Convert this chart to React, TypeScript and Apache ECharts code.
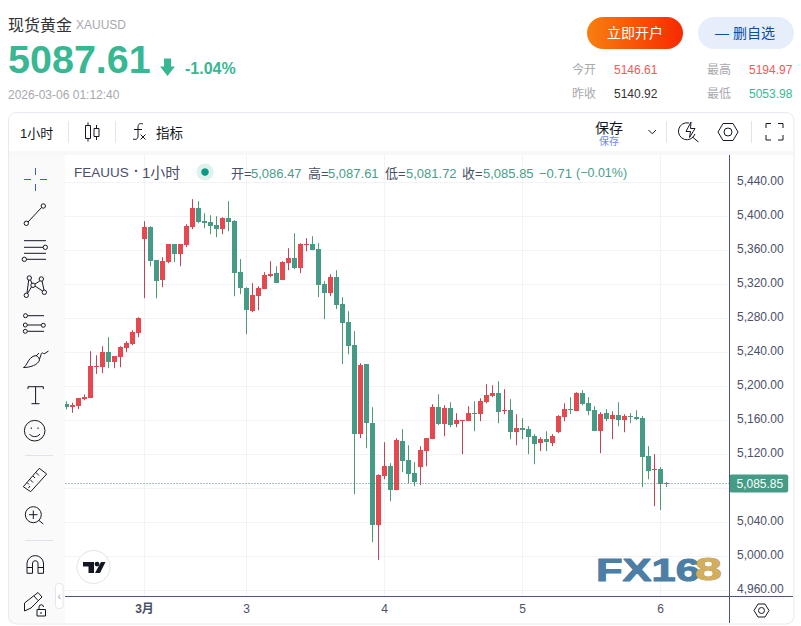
import React, { useEffect, useRef } from "react";
import * as echarts from "echarts";

const xLabels: Record<number, string> = { 13: "3月", 30: "3", 53: "4", 76: "5", 99: "6" };
const bandCount = 111;
const yMin = 4920;
const yMax = 5480;
const yStep = 40;
const lastPrice = 5085.85;

const opens = [5179.2,5175.6,5176.8,5185.1,5186.2,5223.1,5222.7,5240.4,5228.6,5234.5,5245.1,5249.8,5262.7,5373.3,5387.4,5348.6,5325.1,5346.2,5367.4,5355.6,5366.2,5387.4,5409.8,5394.5,5393.3,5389.8,5385.1,5398,5394.5,5334.5,5315.6,5288.6,5306.2,5314.5,5329.8,5333.3,5325.1,5345,5350.9,5339.2,5366.2,5367.4,5361.5,5320.4,5309.8,5328.6,5296.8,5275.6,5248.6,5143.9,5226.2,5156.8,5036.8,5094.5,5106.2,5078,5135.6,5113.3,5098,5105.1,5123.9,5138,5175.6,5155.6,5174.5,5155.6,5159.2,5159.2,5168.6,5167.4,5181.5,5188.6,5192.1,5170.9,5172.1,5146.2,5150.9,5149.8,5141.5,5133.3,5138,5133.3,5146.2,5163.9,5173.3,5170.9,5192.1,5180.3,5172.1,5147.4,5168.6,5161.5,5166.2,5160.4,5165.1,5163.9,5162.7,5118,5101.5,5102.7,5086.47];
const closes = [5175.6,5178,5186.2,5187.4,5223.9,5223.9,5240.4,5228.6,5235.6,5246.2,5251,5263.9,5280.4,5387.4,5347.4,5323.9,5347.4,5367.4,5355.6,5367.4,5388.6,5409.8,5393.3,5392.1,5388.6,5385.1,5398,5393.3,5333.3,5315.6,5289.8,5307.4,5315.6,5331,5332.1,5321.5,5346.2,5350.9,5339.2,5367.4,5367.4,5360.4,5319.2,5309.8,5328.6,5295.6,5274.5,5247.4,5143.9,5225.1,5156.8,5036.8,5095.6,5106.2,5078,5136.8,5112.1,5096.8,5087.4,5125.1,5139.2,5175.6,5155.6,5174.5,5154.5,5160.4,5160.4,5168.6,5167.4,5182.7,5189.8,5192.1,5169.8,5172.1,5146.2,5150.9,5148.6,5140.3,5132.1,5138,5134.5,5141.5,5165.1,5173.3,5172.1,5192.1,5179.2,5170.9,5147.4,5167.4,5161.5,5166.2,5160.4,5165.1,5163.9,5161.5,5116.8,5100.4,5102.7,5085,5085.85];
const highs = [5182.7,5181,5186.2,5190.6,5241.5,5236.8,5247.4,5258,5235.6,5247.4,5253.3,5266.2,5281.5,5394.5,5388.6,5348.6,5352.1,5367.4,5367.4,5367.4,5391,5420.4,5418,5403.9,5401.5,5400.4,5399.2,5418,5395.7,5349.8,5316.8,5321.5,5318,5334.5,5347.4,5341.5,5347.4,5362.7,5380.3,5368.6,5374.5,5376.8,5368.6,5323.9,5332.1,5336.8,5305.1,5288.6,5265.1,5227.4,5226.2,5175.6,5096.8,5134.5,5109.8,5139.2,5149.8,5130.9,5110.9,5129.8,5139.2,5179.2,5190.9,5178,5181.5,5168.6,5160.4,5176.8,5182.7,5186.2,5202.7,5201.5,5206.2,5196.8,5185.1,5167.4,5162.7,5153.3,5143.9,5140.3,5147.4,5143.9,5166.2,5180.3,5187.4,5193.3,5195.6,5187.4,5176.8,5169.8,5173.3,5170.9,5181.5,5167.4,5168.6,5172.1,5165.1,5129.8,5120.4,5105.1,5087.61];
const lows = [5173,5169,5173.3,5183.9,5186.2,5214.8,5215.6,5221.5,5221.5,5222.7,5240.4,5248.6,5258,5303.9,5341.5,5303.9,5316.8,5345,5346.2,5341.5,5363.9,5385.1,5392.1,5386.2,5379.2,5375.6,5379.2,5382.7,5306.2,5308.6,5261.5,5287.4,5289.8,5314.5,5328.6,5321.5,5325.1,5336.8,5338,5333.3,5359.2,5360.4,5305.1,5279.2,5306.2,5291,5226.2,5238,5073.3,5139.2,5127.4,5016.8,4995.7,5090.9,5065.1,5078,5099.2,5086.2,5082.7,5083.9,5106.2,5138,5154.5,5141.5,5152.1,5152.1,5120.4,5159.2,5147.4,5159.2,5180.3,5187.4,5156.8,5167.4,5138,5130.9,5138,5120.4,5108.6,5123.9,5123.9,5129.8,5145.1,5159.2,5167.4,5170.9,5178,5166.2,5147.4,5121.5,5159.2,5138,5153.3,5146.2,5156.8,5160.4,5081.5,5090.9,5059.2,5054.5,5081.72];

const candles = opens.map((o, i) => [i, o, closes[i], lows[i], highs[i]]);
const categories = Array.from({ length: bandCount }, (_, i) => xLabels[i] ?? "");

const FONT = '"Liberation Sans", "Noto Sans CJK SC", sans-serif';
const UP = "#e5484f";
const DOWN = "#459b85";
const UP_WICK = "#b9475a";
const DOWN_WICK = "#4f9a6e";
const INK = "#131722";
const AXIS = "#4c5678";
const LABEL = "#4a5068";
const VALUE = "#4a9d88";

const icons: Record<string, string> = {
  candle: "M88 122.5V125.5M85.5 125.5H90.5V138.5H85.5ZM88 138.5V141.5M96.5 125V128.5M94 128.5H99V136.5H94ZM96.5 136.5V140",
  fx: "M143 124C139 122.5 138 125 138 127V136C138 139 136 140 133 139M134 129.5H142M140.5 134.5L145.5 139.5M145.5 134.5L140.5 139.5",
  chevron: "M648.5 130L652.3 133.8L656 130",
  bolt: "M689 123A8.5 8.5 0 1 0 695 134M692.5 137L698.5 142M691 122L686 131.5H690.5L689.5 137.5L695 128.5H690.5Z",
  hexTop: "M718 132L723 123.5H733L738 132L733 140.5H723ZM732 132A4 4 0 1 1 724 132A4 4 0 1 1 732 132Z",
  full: "M766 128V123.5H771M778 123.5H783V128M783 135V140H778M771 140H766V135",
  hexBottom: "M754 610.5L758 604H765L769 610.5L765 617H758ZM764.5 610.5A3 3 0 1 1 758.5 610.5A3 3 0 1 1 764.5 610.5Z",
  line: "M28 222L41.5 207.5M28.5 223.3A2.2 2.2 0 1 1 24.1 223.3A2.2 2.2 0 1 1 28.5 223.3ZM45.5 206A2.2 2.2 0 1 1 41.1 206A2.2 2.2 0 1 1 45.5 206Z",
  fib: "M24 240.7H46M24 247.3H43M24 253.3H46M26.5 259.3H46M47.5 247.3A2.2 2.2 0 1 1 43.1 247.3A2.2 2.2 0 1 1 47.5 247.3ZM26.5 259.3A2.2 2.2 0 1 1 22.1 259.3A2.2 2.2 0 1 1 26.5 259.3Z",
  pattern: "M28.7 280L27 293M30.5 280L32 283.5M39.8 281L35 284M42 281L44 290M35 286L42.5 291M31.5 287L27.5 293.5M31.5 278A2.2 2.2 0 1 1 27.1 278A2.2 2.2 0 1 1 31.5 278ZM43.5 279A2.2 2.2 0 1 1 39.1 279A2.2 2.2 0 1 1 43.5 279ZM35.2 285.3A2.2 2.2 0 1 1 30.8 285.3A2.2 2.2 0 1 1 35.2 285.3ZM28.5 295.3A2.2 2.2 0 1 1 24.1 295.3A2.2 2.2 0 1 1 28.5 295.3ZM46.5 292.3A2.2 2.2 0 1 1 42.1 292.3A2.2 2.2 0 1 1 46.5 292.3Z",
  channel: "M27.5 315.7H44M27.5 331.3H44M27.5 325H41.3M27.5 315.7A2 2 0 1 1 23.5 315.7A2 2 0 1 1 27.5 315.7ZM45.3 325.3A2 2 0 1 1 41.3 325.3A2 2 0 1 1 45.3 325.3ZM27.3 325A2 2 0 1 1 23.3 325A2 2 0 1 1 27.3 325ZM27.3 331.3A2 2 0 1 1 23.3 331.3A2 2 0 1 1 27.3 331.3Z",
  brush: "M23.5 367.5C27 366 28 358 34 356C37 355 39 357 39.5 360C38 365 30 367.5 23.5 367.5ZM36 356L39 353M39.5 359L41 355C41 353 42.5 352 44 354L48.5 351",
  text: "M28 389V386.7H43.3V389M35.6 386.7V403.7M31.5 403.7H39.5",
  smile: "M45 430.7A10.3 10.3 0 1 1 24.4 430.7A10.3 10.3 0 1 1 45 430.7ZM31.3 427.5V429M38 427.5V429M29.5 434C32 437.5 37.5 437.5 40 434",
  ruler: "M39.3 468.3L46.7 474L30.7 491.7L23.3 486.7ZM27 482.5L29 484.5M30 479.5L33 482.5M33 476L35 478M36 472.5L39 475.5M28.5 488L30 486",
  zoom: "M41.3 514.7A8 8 0 1 1 25.3 514.7A8 8 0 1 1 41.3 514.7ZM39 520.5L43.3 524M33.3 510.5V519M29 514.7H37.5",
  magnet: "M27 573.3V563A8.3 8.3 0 0 1 43.5 563V573.3H38V563A2.8 2.8 0 0 0 32.5 563V573.3ZM27 567.5H32.5M38 567.5H43.5",
  lock: "M24.5 603L38 592.5L42 597L31 608L24.5 611ZM34 596L38 600.5M37 609.5H45.5V616H37ZM39 609.5V607A2 2 0 0 1 43.5 607M41 612V614",
  tvT: "M83 562H94V573H88.5V566.5H83ZM97 561.7A2.4 2.4 0 1 1 97 566.5A2.4 2.4 0 1 1 97 561.7ZM101 562H105.5L100 573H95Z",
};
Object.entries(icons).forEach(([name, d]) => {
  echarts.graphic.registerShape("ic_" + name, echarts.graphic.extendPath(d, {}));
});

const Z = 100;
const txt = (x: number, y: number, text: string, fontSize: number, fill: string, extra: any = {}) => ({
  type: "text",
  z: Z + 2,
  x,
  y,
  silent: true,
  style: { text, fontSize, fill, fontFamily: FONT, verticalAlign: "middle", align: "left", ...extra },
});
const rect = (x: number, y: number, width: number, height: number, fill: string, r: any = 0, stroke?: string, z = Z) => ({
  type: "rect",
  z,
  silent: true,
  shape: { x, y, width, height, r },
  style: { fill, stroke, lineWidth: stroke ? 1 : 0 },
});
const seg = (x1: number, y1: number, x2: number, y2: number, stroke: string, z = Z + 1) => ({
  type: "line",
  z,
  silent: true,
  shape: { x1, y1, x2, y2 },
  style: { stroke, lineWidth: 1 },
});
const icon = (name: string, stroke = INK, fill = "none", lineWidth = 1) => ({
  type: "ic_" + name,
  z: Z + 2,
  silent: true,
  style: { stroke, fill, lineWidth },
});

function buildGraphics() {
  const g = echarts.graphic as any;
  const orange = new g.LinearGradient(0, 0, 1, 0, [
    { offset: 0, color: "#f77f10" },
    { offset: 1, color: "#f72a00" },
  ]);
  const BORDER = "#e8eaf1";
  const SEP = "#e0e3eb";
  return [
    // masks and panels around the plot
    rect(0, 0, 801, 112, "#ffffff"),
    rect(0, 112, 65, 514, "#ffffff"),
    rect(0, 596, 801, 30, "#ffffff"),
    rect(729.5, 112, 71.5, 44, "#ffffff"),
    rect(794, 112, 7, 514, "#ffffff"),
    rect(8.5, 112.5, 785.5, 511.5, "none", 8, BORDER, Z + 1),
    rect(9, 113, 784.5, 38, "#ffffff", [8, 8, 0, 0]),
    rect(9, 151, 784.5, 4, "#f8f8f9"),
    rect(9, 155, 56, 468, "#fafafb"),
    seg(729.5, 155, 729.5, 623, AXIS),
    seg(65, 596.5, 793, 596.5, AXIS),

    // header
    txt(8, 25, "现货黄金", 16, "#333333"),
    txt(76, 25, "XAUUSD", 12, "#a8a8ae"),
    txt(8, 59, "5087.61", 39.5, "#38b793", { fontWeight: "bold" }),
    {
      type: "polygon",
      z: Z + 2,
      silent: true,
      shape: { points: [[164, 58.5], [171, 58.5], [171, 66.5], [175, 66.5], [167.5, 76], [160, 66.5], [164, 66.5]] },
      style: { fill: "#38b793" },
    },
    txt(185, 68, "-1.04%", 16, "#38b793", { fontWeight: "bold" }),
    txt(8, 95, "2026-03-06 01:12:40", 12, "#a8a8ae"),

    rect(587, 17, 96, 32, orange, 16),
    txt(635, 33, "立即开户", 14, "#ffffff", { align: "center" }),
    rect(698, 17, 96, 32, "#e6eefc", 16),
    txt(715, 33, "— 删自选", 14, "#0b4ea2"),

    txt(572, 70, "今开", 12, "#a8a8ae"),
    txt(614, 70, "5146.61", 12, "#f25a5a"),
    txt(707, 70, "最高", 12, "#a8a8ae"),
    txt(749, 70, "5194.97", 12, "#f25a5a"),
    txt(572, 94, "昨收", 12, "#a8a8ae"),
    txt(614, 94, "5140.92", 12, "#333333"),
    txt(707, 94, "最低", 12, "#a8a8ae"),
    txt(749, 94, "5053.98", 12, "#38b793"),

    // top toolbar
    txt(20, 133, "1小时", 13, INK),
    seg(68.5, 121, 68.5, 143, SEP),
    icon("candle"),
    seg(115.5, 121, 115.5, 143, SEP),
    icon("fx"),
    txt(156, 133, "指标", 13.5, INK),
    txt(595, 128, "保存", 14, INK),
    txt(599, 141, "保存", 10, "#7186f4"),
    icon("chevron"),
    seg(666.5, 121, 666.5, 143, SEP),
    icon("bolt"),
    icon("hexTop"),
    seg(751.5, 121, 751.5, 143, SEP),
    icon("full"),

    // legend row
    txt(74, 172, "FEAUUS", 13.5, LABEL),
    txt(134, 171, "·", 14, LABEL, { fontWeight: "bold" }),
    txt(142, 172, "1小时", 15, LABEL),
    { type: "circle", z: Z + 2, silent: true, shape: { cx: 205, cy: 172, r: 8.5 }, style: { fill: "#dff1ed" } },
    { type: "circle", z: Z + 3, silent: true, shape: { cx: 205, cy: 172, r: 3.8 }, style: { fill: "#089981" } },
    txt(231, 173, "开=", 13, LABEL),
    txt(251, 173, "5,086.47", 13, VALUE),
    txt(308, 173, "高=", 13, LABEL),
    txt(328, 173, "5,087.61", 13, VALUE),
    txt(385, 173, "低=", 13, LABEL),
    txt(406, 173, "5,081.72", 13, VALUE),
    txt(462, 173, "收=", 13, LABEL),
    txt(483, 173, "5,085.85", 13, VALUE),
    txt(539, 173, "−0.71", 13, VALUE),
    txt(576, 173, "(−0.01%)", 12.5, VALUE),

    // left toolbar
    seg(24, 179.5, 31, 179.5, "#2e62e0", Z + 2),
    seg(40, 179.5, 47, 179.5, "#2e62e0", Z + 2),
    seg(35.5, 168, 35.5, 175, "#2e62e0", Z + 2),
    seg(35.5, 184, 35.5, 191, "#2e62e0", Z + 2),
    icon("line"),
    icon("fib"),
    icon("pattern"),
    icon("channel"),
    icon("brush"),
    icon("text"),
    icon("smile"),
    seg(25, 455.5, 53, 455.5, SEP, Z + 2),
    icon("ruler"),
    icon("zoom"),
    seg(25, 540.5, 53, 540.5, SEP, Z + 2),
    icon("magnet"),
    icon("lock"),
    rect(55.5, 583.5, 7.5, 25, "#ffffff", 3, "#e4e6ee", Z + 2),
    txt(59.3, 596, "‹", 11, "#a8a8ae", { align: "center" }),

    // bottom settings icon
    icon("hexBottom"),

    // TradingView badge
    { type: "circle", z: Z + 2, silent: true, shape: { cx: 93.5, cy: 567, r: 16.5 }, style: { fill: "#ffffff", stroke: SEP, lineWidth: 1 } },
    icon("tvT", "none", INK, 0),

    // FX168 watermark
    {
      type: "text",
      z: Z + 2,
      silent: true,
      x: 596,
      y: 569.5,
      scaleX: 1.36,
      style: { text: "FX16", fontSize: 32, fontWeight: "bold", fontFamily: FONT, fill: "#4d7ea5", stroke: "#4d7ea5", lineWidth: 1, verticalAlign: "middle", align: "left" },
    },
    {
      type: "text",
      z: Z + 2,
      silent: true,
      x: 695,
      y: 569.5,
      scaleX: 1.5,
      style: { text: "8", fontSize: 32, fontWeight: "bold", fontFamily: FONT, fill: "#d3ae5e", stroke: "#c49f52", lineWidth: 1, verticalAlign: "middle", align: "left" },
    },
  ];
}

const renderCandle = (_: any, api: any) => {
  const i = api.value(0);
  const open = api.value(1);
  const close = api.value(2);
  const x = api.coord([i, open])[0];
  const yO = Math.round(api.coord([i, open])[1]);
  const yC = Math.round(api.coord([i, close])[1]);
  const yL = api.coord([i, api.value(3)])[1];
  const yH = api.coord([i, api.value(4)])[1];
  const up = close >= open;
  const top = Math.min(yO, yC);
  const h = Math.max(1, Math.abs(yO - yC));
  return {
    type: "group",
    children: [
      { type: "line", shape: { x1: x, y1: yH, x2: x, y2: yL }, style: { stroke: up ? UP_WICK : DOWN_WICK, lineWidth: 1 } },
      { type: "rect", shape: { x: x - 2.5, y: top, width: 5, height: h }, style: { fill: up ? UP : DOWN } },
    ],
  };
};

export default function App() {
  const ref = useRef<HTMLDivElement>(null);
  useEffect(() => {
    const chart = echarts.init(ref.current!, undefined, { renderer: "svg" });
    const grid = { left: 63.5, width: 666, top: 148.5, height: 476, containLabel: false };
    chart.setOption({
      animation: false,
      backgroundColor: "#ffffff",
      textStyle: { fontFamily: FONT },
      grid,
      xAxis: [
        {
          type: "category",
          position: "bottom",
          data: categories,
          boundaryGap: true,
          axisLine: { show: false },
          axisTick: { show: false },
          axisLabel: { show: false },
          splitLine: {
            show: true,
            alignWithLabel: true,
            interval: (i: number) => !!xLabels[i],
            lineStyle: { color: "#f2f3f5", width: 1 },
          },
        },
        {
          type: "category",
          position: "bottom",
          z: 200,
          data: categories,
          boundaryGap: true,
          axisLine: { show: false },
          axisTick: { show: false },
          splitLine: { show: false },
          axisLabel: {
            show: true,
            interval: 0,
            margin: -22,
            hideOverlap: false,
            color: LABEL,
            fontSize: 12,
            fontFamily: FONT,
            formatter: (v: string) => (v === "3月" ? `{b|${v}}` : v),
            rich: { b: { fontWeight: "bold", fontSize: 12, color: LABEL, fontFamily: FONT } },
          },
        },
      ],
      yAxis: {
        type: "value",
        position: "right",
        min: yMin,
        max: yMax,
        interval: yStep,
        axisLine: { show: false },
        axisTick: { show: false },
        splitLine: { show: true, lineStyle: { color: "#f2f3f5", width: 1 } },
        axisLabel: {
          margin: 7.5,
          color: LABEL,
          fontSize: 12,
          fontFamily: FONT,
          verticalAlign: "bottom",
          lineHeight: 4,
          showMinLabel: false,
          showMaxLabel: false,
          formatter: (v: number) =>
            v <= yMin || v >= yMax
              ? ""
              : v.toLocaleString("en-US", { minimumFractionDigits: 2, maximumFractionDigits: 2 }),
        },
      },
      graphic: { elements: buildGraphics() },
      series: [
        {
          type: "custom",
          xAxisIndex: 0,
          yAxisIndex: 0,
          z: 3,
          silent: true,
          renderItem: renderCandle,
          encode: { x: 0, y: [1, 2, 3, 4] },
          data: candles,
          markLine: {
            silent: true,
            symbol: "none",
            animation: false,
            lineStyle: { color: "#3f8f78", type: [1, 2], dashOffset: 0.5, width: 1 },
            label: {
              show: true,
              position: "end",
              distance: 0,
              formatter: () => "5,085.85",
              color: "#ffffff",
              backgroundColor: "#459b85",
              fontSize: 12,
              fontFamily: FONT,
              fontWeight: 500,
              padding: [3, 5, 3, 7],
              borderRadius: 2,
            },
            data: [{ yAxis: lastPrice }],
          },
        },
      ],
    });
    return () => chart.dispose();
  }, []);
  return <div ref={ref} style={{ position: "absolute", left: 0, top: 0, width: 801, height: 626 }} />;
}
